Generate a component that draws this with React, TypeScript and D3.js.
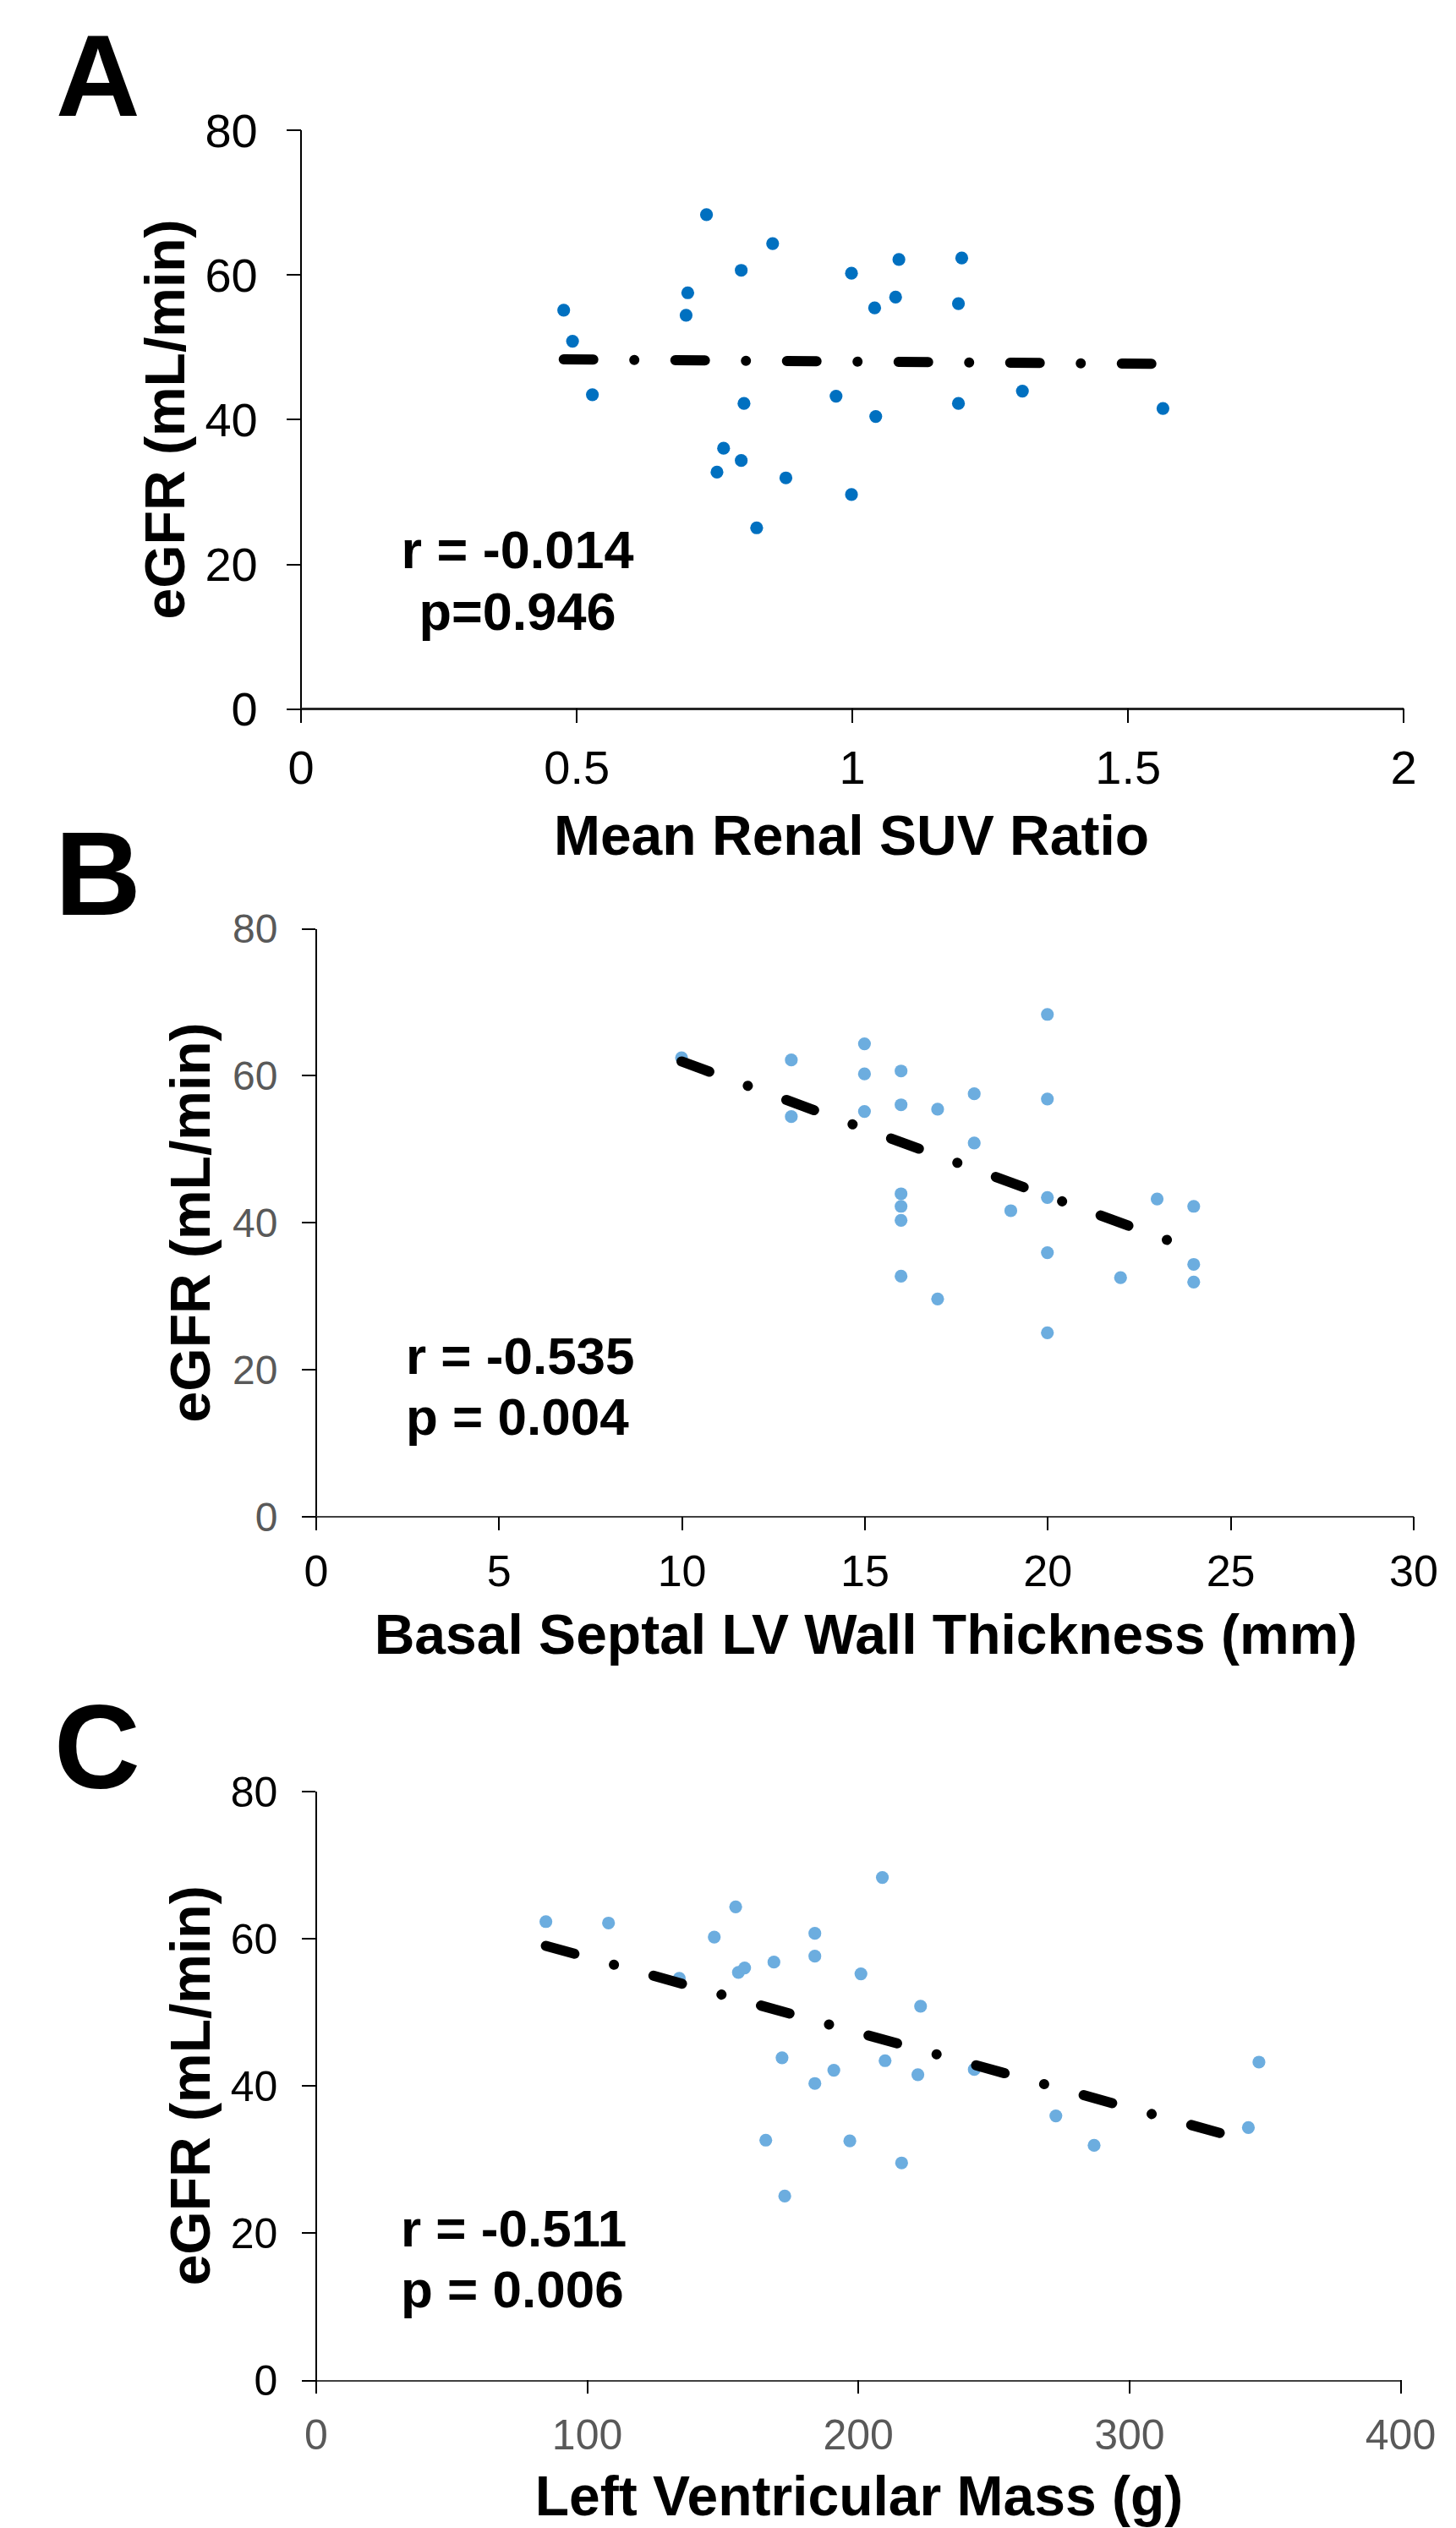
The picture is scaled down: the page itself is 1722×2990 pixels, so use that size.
import React, { useRef, useEffect } from 'react';
import * as d3 from 'd3';

// eGFR axis, shared by all three panels
const yTicks = [0, 20, 40, 60, 80];

// Panel A: mean renal SUV ratio
const suvRatio = [0.477, 0.493, 0.529, 0.736, 0.702, 0.699, 0.799, 0.856, 0.767, 0.799, 0.755, 0.804, 0.88, 0.827, 0.999, 1.041, 1.079, 1.085, 0.971, 1.043, 0.999, 1.199, 1.193, 1.193, 1.309, 1.564];
const egfrA = [55.1, 50.8, 43.4, 68.3, 57.5, 54.4, 60.6, 64.3, 36.0, 34.3, 32.7, 42.2, 31.9, 25.0, 60.2, 55.4, 56.9, 62.1, 43.2, 40.4, 29.6, 62.3, 56.0, 42.2, 43.9, 41.5];
const trendA: [number, number][] = [[0.477, 48.29], [1.564, 47.66]];
const xTicksA = [0, 0.5, 1, 1.5, 2];

// Panel B: basal septal LV wall thickness (mm)
const wallThickness = [10, 13, 13, 15, 15, 15, 16, 16, 16, 16, 16, 16, 17, 17, 18, 18, 19, 20, 20, 20, 20, 20, 23, 24, 24, 24, 22];
const egfrB = [62.4, 62.1, 54.4, 64.3, 60.2, 55.1, 60.6, 56.0, 43.9, 42.2, 40.3, 32.7, 55.4, 29.6, 57.5, 50.8, 41.6, 68.3, 56.8, 43.4, 35.9, 25.0, 43.2, 42.2, 34.3, 31.9, 32.5];
const trendB: [number, number][] = [[10, 61.9], [24, 36.3]];
const xTicksB = [0, 5, 10, 15, 20, 25, 30];

// Panel C: left ventricular mass (g)
const lvMass = [84.9, 108.0, 134.1, 147.0, 154.9, 155.9, 158.2, 169.0, 184.1, 184.1, 201.1, 172.0, 191.1, 184.1, 166.0, 197.0, 173.0, 209.0, 223.1, 210.0, 222.1, 242.9, 216.1, 273.0, 287.1, 344.0, 347.9];
const egfrC = [62.3, 62.1, 54.6, 60.2, 64.3, 55.4, 56.0, 56.8, 60.7, 57.6, 55.2, 43.8, 42.1, 40.3, 32.6, 32.5, 25.0, 68.3, 50.8, 43.4, 41.5, 42.2, 29.5, 35.9, 31.9, 34.3, 43.2];
const trendC: [number, number][] = [[84.9, 59.0], [347.9, 32.1]];
const xTicksC = [0, 100, 200, 300, 400];

const FONT = '"Liberation Sans", Arial, sans-serif';

const panels = [
  {
    letter: 'A', letterX: 66, letterY: 137, letterSize: 138,
    xs: suvRatio, ys: egfrA, trend: trendA, xTicks: xTicksA, xDomain: [0, 2],
    left: 355.7, right: 1659.7, top: 153.8, bottom: 838.1, tick: 17,
    yLabelSize: 56, yLabelColor: '#000', yPad: 34,
    xLabelSize: 56, xLabelColor: '#000', xPad: 32,
    xAxisWidth: 3, xAxisColor: '#262626',
    xTitle: 'Mean Renal SUV Ratio', xTitleX: 1007, xTitleY: 1011,
    yTitleX: 218,
    stats: ['r = -0.014', 'p=0.946'], statsAnchor: 'middle', statsX: 612, statsY: [672, 745], statsSize: 63,
    dot: '#0070C0',
  },
  {
    letter: 'B', letterX: 65, letterY: 1082, letterSize: 141,
    xs: wallThickness, ys: egfrB, trend: trendB, xTicks: xTicksB, xDomain: [0, 30],
    left: 373.4, right: 1671.4, top: 1098, bottom: 1793.8, tick: 16,
    yLabelSize: 48, yLabelColor: '#595959', yPad: 29,
    xLabelSize: 52, xLabelColor: '#000', xPad: 29,
    xAxisWidth: 2, xAxisColor: '#404040',
    xTitle: 'Basal Septal LV Wall Thickness (mm)', xTitleX: 1024, xTitleY: 1956,
    yTitleX: 248,
    stats: ['r = -0.535', 'p = 0.004'], statsAnchor: 'start', statsX: 480, statsY: [1625, 1697], statsSize: 62,
    dot: '#6CADDF',
  },
  {
    letter: 'C', letterX: 64, letterY: 2115, letterSize: 141,
    xs: lvMass, ys: egfrC, trend: trendC, xTicks: xTicksC, xDomain: [0, 400],
    left: 373.4, right: 1656, top: 2118.7, bottom: 2815, tick: 16,
    yLabelSize: 50, yLabelColor: '#000', yPad: 29,
    xLabelSize: 50, xLabelColor: '#595959', xPad: 30,
    xAxisWidth: 2, xAxisColor: '#404040',
    xTitle: 'Left Ventricular Mass (g)', xTitleX: 1016, xTitleY: 2975,
    yTitleX: 248,
    stats: ['r = -0.511', 'p = 0.006'], statsAnchor: 'start', statsX: 474, statsY: [2657, 2729], statsSize: 62,
    dot: '#6CADDF',
  },
];

const Figure = () => {
  const svgRef = useRef<SVGSVGElement>(null);

  useEffect(() => {
    document.body.style.margin = '0';
    const svg = d3.select(svgRef.current);
    svg.selectAll('*').remove();

    panels.forEach((p) => {
      const x = d3.scaleLinear().domain(p.xDomain).range([p.left, p.right]);
      const y = d3.scaleLinear().domain([0, 80]).range([p.bottom, p.top]);
      const g = svg.append('g');

      // y axis
      const yAxis = g.append('g')
        .attr('transform', `translate(${p.left},0)`)
        .call(d3.axisLeft(y).tickValues(yTicks).tickSize(p.tick).tickSizeOuter(0).tickPadding(p.yPad).tickFormat((d) => String(d)));
      yAxis.select('.domain').attr('stroke', '#000').attr('stroke-width', 2);
      yAxis.selectAll('.tick line').attr('stroke', '#000').attr('stroke-width', 2);
      yAxis.selectAll('.tick text')
        .attr('font-family', FONT).attr('font-size', p.yLabelSize)
        .attr('fill', p.yLabelColor).attr('dy', '0.35em');

      // x axis
      const xAxis = g.append('g')
        .attr('transform', `translate(0,${p.bottom})`)
        .call(d3.axisBottom(x).tickValues(p.xTicks).tickSize(p.tick).tickSizeOuter(0).tickPadding(p.xPad).tickFormat((d) => String(d)));
      xAxis.select('.domain').attr('stroke', p.xAxisColor).attr('stroke-width', p.xAxisWidth);
      xAxis.selectAll('.tick line').attr('stroke', '#000').attr('stroke-width', 2);
      xAxis.selectAll('.tick text')
        .attr('font-family', FONT).attr('font-size', p.xLabelSize)
        .attr('fill', p.xLabelColor).attr('dy', '0.71em');
      g.selectAll('.domain, .tick line').attr('shape-rendering', 'crispEdges');

      // points
      g.append('g')
        .selectAll('circle')
        .data(p.xs.map((v, i) => [v, p.ys[i]]))
        .join('circle')
        .attr('cx', (d) => x(d[0]))
        .attr('cy', (d) => y(d[1]))
        .attr('r', 7.6)
        .attr('fill', p.dot);

      // linear trend line, long dash dot
      const line = d3.line<[number, number]>().x((d) => x(d[0])).y((d) => y(d[1]));
      g.append('path')
        .attr('d', line(p.trend))
        .attr('fill', 'none')
        .attr('stroke', '#000')
        .attr('stroke-width', 12)
        .attr('stroke-linecap', 'round')
        .attr('stroke-dasharray', '35 48.5 0.01 48.5');

      // titles
      g.append('text')
        .attr('x', p.letterX).attr('y', p.letterY)
        .attr('font-family', FONT).attr('font-weight', 'bold').attr('font-size', p.letterSize)
        .text(p.letter);

      g.append('text')
        .attr('x', p.xTitleX).attr('y', p.xTitleY)
        .attr('text-anchor', 'middle')
        .attr('font-family', FONT).attr('font-weight', 'bold').attr('font-size', 66)
        .text(p.xTitle);

      g.append('text')
        .attr('transform', `translate(${p.yTitleX},${(p.top + p.bottom) / 2}) rotate(-90)`)
        .attr('text-anchor', 'middle')
        .attr('font-family', FONT).attr('font-weight', 'bold').attr('font-size', 66)
        .text('eGFR (mL/min)');

      p.stats.forEach((s, i) => {
        g.append('text')
          .attr('x', p.statsX).attr('y', p.statsY[i])
          .attr('text-anchor', p.statsAnchor)
          .attr('font-family', FONT).attr('font-weight', 'bold').attr('font-size', p.statsSize)
          .text(s);
      });
    });
  }, []);

  return (
    <svg ref={svgRef} width="1722" height="2990" style={{ position: 'absolute', left: 0, top: 0, background: '#fff' }}></svg>
  );
};

export default function App() {
  return <Figure />;
}
